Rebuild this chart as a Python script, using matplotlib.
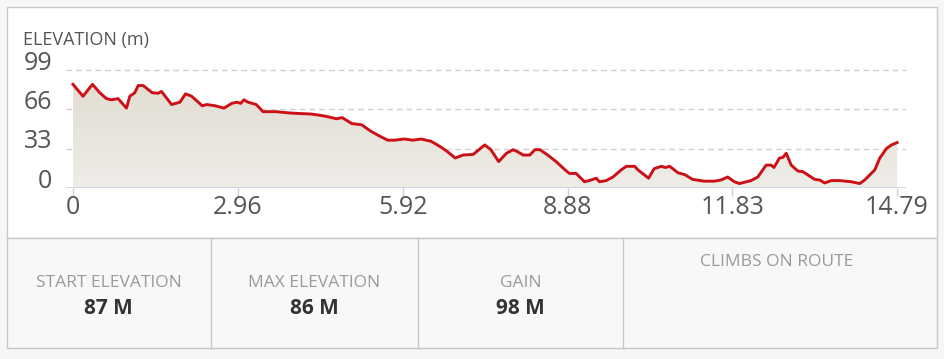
import matplotlib.pyplot as plt
import numpy as np
from matplotlib.patches import Rectangle
from matplotlib.colors import LinearSegmentedColormap

plt.rcParams['font.family'] = ['Open Sans', 'DejaVu Sans']

# elevation profile (km, m)
dist_km = [0.00, 0.18, 0.35, 0.48, 0.60, 0.69, 0.81, 0.96, 1.02, 1.11, 1.17, 1.26,
           1.42, 1.53, 1.59, 1.77, 1.92, 2.02, 2.13, 2.32, 2.40, 2.55, 2.71, 2.85,
           2.94, 3.01, 3.07, 3.14, 3.29, 3.41, 3.56, 3.65, 3.86, 4.04, 4.28, 4.43,
           4.55, 4.73, 4.83, 4.97, 5.00, 5.18, 5.33, 5.48, 5.65, 5.77, 5.95, 6.10,
           6.25, 6.43, 6.61, 6.73, 6.86, 7.00, 7.18, 7.39, 7.50, 7.64, 7.78, 7.90,
           7.99, 8.08, 8.20, 8.29, 8.38, 8.52, 8.67, 8.82, 8.91, 9.03, 9.18, 9.30,
           9.39, 9.45, 9.57, 9.69, 9.84, 9.93, 10.08, 10.14, 10.33, 10.43, 10.56,
           10.63, 10.71, 10.86, 10.98, 11.12, 11.33, 11.51, 11.63, 11.75, 11.87,
           11.96, 12.17, 12.29, 12.44, 12.53, 12.58, 12.68, 12.74, 12.80, 12.89,
           13.01, 13.10, 13.31, 13.40, 13.49, 13.61, 13.76, 13.97, 14.12, 14.21,
           14.39, 14.48, 14.60, 14.69, 14.79]
elev_m = [87, 77, 87, 80, 75, 74, 75, 67, 77, 80, 86, 86,
          80, 79.5, 81, 70, 72, 79, 77, 69, 70, 69, 67, 71,
          72, 71, 74, 72, 70, 64, 64, 64, 63, 62.5, 62, 61,
          60, 58, 59, 55, 54, 53, 48, 44, 40, 40, 41, 40,
          41, 39, 34, 30, 25, 27.5, 28, 36, 32, 22, 29, 32,
          30, 27.5, 27.5, 32, 32, 27.5, 22, 15.5, 12, 12, 5, 6.5,
          8, 5, 6, 9, 15, 18, 18, 15, 8, 16, 18,
          17, 18, 12.5, 11, 7, 5.5, 5.5, 6.5, 9, 5,
          3.5, 6, 9, 19, 19, 17, 25, 25.5, 29, 19,
          14, 13.5, 7, 6.5, 4, 6, 6, 5, 3.5, 6.5,
          15, 25, 33, 36, 38]

y_ticks = [0, 33, 66, 99]
x_ticks = [0, 2.96, 5.92, 8.88, 11.83, 14.79]
x_labels = ['0', '2.96', '5.92', '8.88', '11.83', '14.79']

stat_names = ['START ELEVATION', 'MAX ELEVATION', 'GAIN', 'CLIMBS ON ROUTE']
stat_values = ['87 M', '86 M', '98 M', '']

W, H = 945, 359
fig = plt.figure(figsize=(W / 100, H / 100), dpi=100, facecolor='#f6f6f6')

# background boxes, drawn in pixel coords
bg = fig.add_axes([0, 0, 1, 1], zorder=0)
bg.set_xlim(0, W)
bg.set_ylim(H, 0)
bg.axis('off')
bg.add_patch(Rectangle((7, 7), 930, 231, facecolor='white', edgecolor='#c8c8c8', lw=1))
bg.add_patch(Rectangle((7, 238), 930, 110, facecolor='#f9f7f7', edgecolor='#c8c8c8', lw=1))
for xd in [211, 418, 623]:
    bg.plot([xd, xd], [238, 348], color='#c8c8c8', lw=1)

centers = [108.5, 314.5, 520.5, 777]
for cx, name, val in zip(centers, stat_names, stat_values):
    if val:
        bg.text(cx, 283, name, ha='center', va='center', color='#9a9a9a', fontsize=12.5)
        bg.text(cx, 309, val, ha='center', va='center', color='#333333',
                fontsize=15, fontweight='bold')
    else:
        bg.text(cx, 262, name, ha='center', va='center', color='#9a9a9a', fontsize=12.5)

bg.text(23, 40, 'ELEVATION (m)', ha='left', va='center', color='#555555', fontsize=13)

# elevation chart
y_top = (187.7 - 62) / 39.2 * 33
ax = fig.add_axes([66 / W, 1 - 187.7 / H, 840 / W, (187.7 - 62) / H], zorder=1)
ax.set_facecolor('none')
for s in ax.spines.values():
    s.set_visible(False)

for yv in y_ticks[1:]:
    ax.axhline(yv, color='#cfcfcf', lw=1, ls=(0, (4, 3)), zorder=1)
ax.axhline(0, color='#c5d2df', lw=1.2, zorder=4)

# gradient fill under the profile
poly = ax.fill_between(dist_km, elev_m, 0, color='none', lw=0)
grad = np.linspace(0, 1, 256).reshape(-1, 1)
cmap = LinearSegmentedColormap.from_list('elev', ['#efede8', '#e1ddd2'])
img = ax.imshow(grad, extent=[0, 14.79, 0, 90], origin='lower', aspect='auto',
                cmap=cmap, zorder=2)
img.set_clip_path(poly.get_paths()[0], transform=ax.transData)

ax.plot(dist_km, elev_m, color='#cc1016', lw=2.1, zorder=5, solid_joinstyle='round')

ax.set_xlim(-0.125, 14.95)
ax.set_ylim(0, y_top)

ax.set_yticks(y_ticks)
ax.set_yticklabels([str(v) for v in y_ticks])
for lbl in ax.get_yticklabels():
    lbl.set_va('baseline')
ax.tick_params(axis='y', length=0, pad=10, labelsize=18, labelcolor='#555555')
ax.set_xticks(x_ticks)
ax.set_xticklabels(x_labels)
ax.tick_params(axis='x', length=6, width=1, color='#c5d2df', pad=-1,
               labelsize=18, labelcolor='#555555')

fig.savefig('out.png', dpi=100, facecolor=fig.get_facecolor())
